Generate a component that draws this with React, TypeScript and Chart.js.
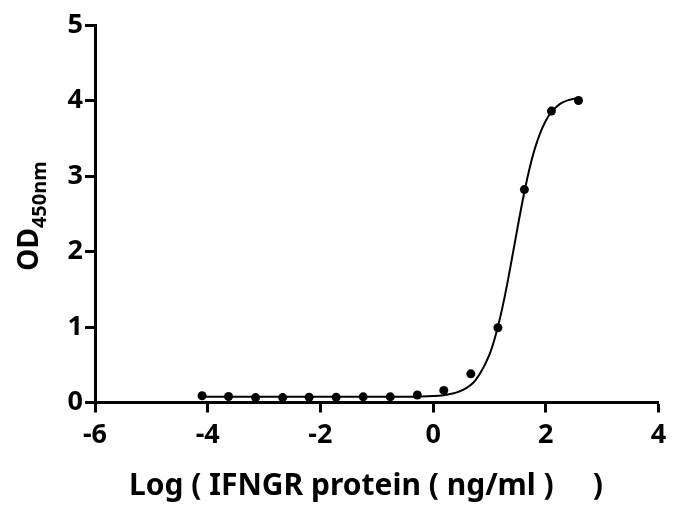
import React, { useEffect, useRef } from 'react';
import { Chart, registerables } from 'chart.js';

Chart.register(...registerables);

// Measured points: log concentration (ng/ml) vs OD450nm
const pointLogConc = [2.58, 2.10, 1.62, 1.15, 0.67, 0.19, -0.28, -0.76, -1.24, -1.72, -2.20, -2.67, -3.15, -3.63, -4.10];
const pointOD = [4.00, 3.86, 2.82, 0.99, 0.38, 0.16, 0.10, 0.075, 0.075, 0.07, 0.07, 0.065, 0.065, 0.08, 0.09];

// Fitted curve
const fitLogConc = [-4.1, -3, -2, -1, -0.5, 0, 0.25, 0.5, 0.75, 1.0, 1.1, 1.2, 1.3, 1.4, 1.5, 1.6, 1.7, 1.8, 1.9, 2.0, 2.1, 2.2, 2.3, 2.4, 2.5, 2.58];
const fitOD = [0.075, 0.075, 0.075, 0.075, 0.076, 0.086, 0.104, 0.156, 0.294, 0.633, 0.863, 1.157, 1.511, 1.910, 2.322, 2.716, 3.063, 3.349, 3.569, 3.732, 3.848, 3.925, 3.975, 4.005, 4.022, 4.03];

const xMin = -6;
const xMax = 4;
const xStep = 2;
const yMin = 0;
const yMax = 5;
const yStep = 1;

const xTitle = 'Log ( IFNGR protein ( ng/ml )     )';
const yTitleMain = 'OD';
const yTitleSub = '450nm';

const FONT = '"Noto Sans", "DejaVu Sans", sans-serif';

const titlesPlugin = {
  id: 'customTitles',
  afterDraw(chart: any) {
    const ctx = chart.ctx as CanvasRenderingContext2D;
    ctx.save();
    ctx.fillStyle = '#000';
    // X title
    ctx.font = `bold 30px ${FONT}`;
    ctx.textAlign = 'center';
    ctx.textBaseline = 'alphabetic';
    ctx.fillText(xTitle, 366, 495);
    // Y title with subscript
    ctx.textAlign = 'left';
    ctx.font = `bold 28px ${FONT}`;
    const w1 = ctx.measureText(yTitleMain).width;
    ctx.font = `bold 20px ${FONT}`;
    const w2 = ctx.measureText(yTitleSub).width;
    const total = w1 + w2;
    const cy = 216;
    ctx.translate(38, cy);
    ctx.rotate(-Math.PI / 2);
    ctx.font = `bold 28px ${FONT}`;
    ctx.fillText(yTitleMain, -total / 2, 0);
    ctx.font = `bold 20px ${FONT}`;
    ctx.fillText(yTitleSub, -total / 2 + w1, 8);
    ctx.restore();
  },
};

export default function App() {
  const canvasRef = useRef<HTMLCanvasElement | null>(null);

  useEffect(() => {
    if (!canvasRef.current) return;
    const curve = fitLogConc.map((x, i) => ({ x, y: fitOD[i] }));
    const pts = pointLogConc.map((x, i) => ({ x, y: pointOD[i] }));
    const chart = new Chart(canvasRef.current, {
      type: 'scatter',
      data: {
        datasets: [
          {
            label: 'fit',
            data: curve,
            showLine: true,
            borderColor: '#000',
            borderWidth: 2,
            pointRadius: 0,
            cubicInterpolationMode: 'monotone',
            fill: false,
          } as any,
          {
            label: 'data',
            data: pts,
            showLine: false,
            pointRadius: 4.5,
            pointBackgroundColor: '#000',
            pointBorderColor: '#000',
            pointBorderWidth: 0,
          },
        ],
      },
      options: {
        responsive: true,
        maintainAspectRatio: false,
        animation: false,
        layout: { padding: { top: 25, right: 31.5, left: 0, bottom: 0 } },
        plugins: {
          legend: { display: false },
          tooltip: { enabled: false },
          title: { display: false },
        },
        scales: {
          x: {
            type: 'linear',
            min: xMin,
            max: xMax,
            ticks: {
              stepSize: xStep,
              color: '#000',
              font: { family: FONT, size: 27, weight: 'bold' },
              padding: 7,
              maxRotation: 0,
            },
            grid: {
              drawOnChartArea: false,
              drawTicks: true,
              tickLength: 10,
              tickWidth: 3,
              tickColor: '#000',
            },
            border: { display: true, width: 3, color: '#000' },
            afterFit(scale: any) {
              scale.height = 514 - 402.5;
            },
          },
          y: {
            type: 'linear',
            min: yMin,
            max: yMax,
            ticks: {
              stepSize: yStep,
              color: '#000',
              font: { family: FONT, size: 27, weight: 'bold' },
              padding: 2,
            },
            grid: {
              drawOnChartArea: false,
              drawTicks: true,
              tickLength: 10,
              tickWidth: 3,
              tickColor: '#000',
            },
            border: { display: true, width: 3, color: '#000' },
            afterFit(scale: any) {
              scale.width = 95;
            },
          },
        },
      },
      plugins: [titlesPlugin],
    });
    return () => chart.destroy();
  }, []);

  return (
    <div style={{ position: 'fixed', left: 0, top: 0, width: 690, height: 514, background: '#fff' }}>
      <canvas ref={canvasRef} />
    </div>
  );
}
